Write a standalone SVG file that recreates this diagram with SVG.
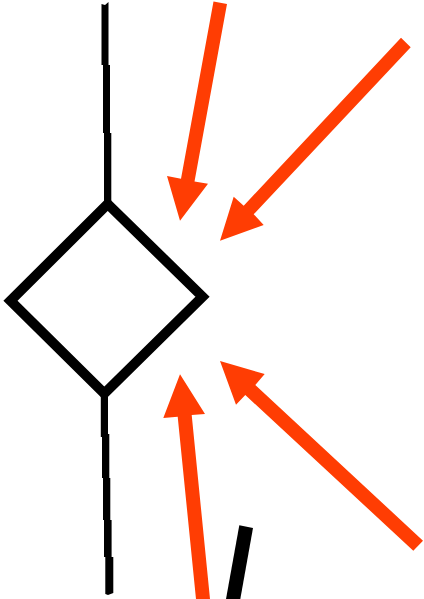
<svg xmlns="http://www.w3.org/2000/svg" width="424" height="599" viewBox="0 0 424 599">
<defs>
<filter id="soft" x="-5%" y="-5%" width="110%" height="110%"><feGaussianBlur stdDeviation="0.5"/></filter>
</defs>
<style>
.wire{fill:#000;stroke:none}
.arrow{fill:#ff3d03;stroke:none}
</style>
<rect width="424" height="599" fill="#fff"/>
<g id="connectors">
<g filter="url(#soft)">
<path class="wire" d="M101.500 4L105 5L108.500 2V65H110V133H111.300V204H104V133H103V65H101.500Z"/>
<path class="wire" d="M100.800 392H108V434H109.300V478H110.300V520H111.600V557H113.300V593L108 595L105.300 594V557H104V520H103V478H102V437H100.800Z"/>
</g>
<polygon class="arrow" points="213.500,1.500 227,4 194.500,181.500 208,183.700 180,220.700 167,176 181,178.800"/>
<polygon class="arrow" points="401,37.700 410.700,47.300 253.700,214.300 263.700,225 220,240.700 233.700,196.700 243.700,205.700"/>
<polygon class="arrow" points="180,374.300 205,414 191.700,415 210,599 196,599 177.700,416.700 163.300,418"/>
<polygon class="arrow" points="220,361 264.700,374 255.300,385 423,540.700 413.300,550.700 245.300,395 236,404.700"/>
<polygon class="wire" points="239.300,525.300 253,528 240.300,599 226,599"/>
</g>
<g id="diamond">
<polygon points="107.700,204 202.500,296.700 104.300,393.500 10.500,300.700" fill="none" stroke="#000" stroke-width="10" filter="url(#soft)"/>
</g>
</svg>
